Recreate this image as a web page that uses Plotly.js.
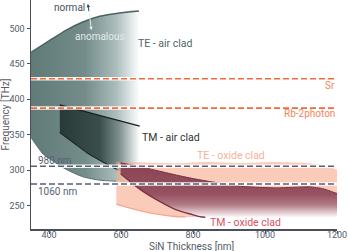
<!DOCTYPE html>
<html>
<head>
<meta charset="utf-8">
<script src="https://cdn.plot.ly/plotly-3.0.1.min.js"></script>
<style>html,body{margin:0;padding:0;background:#fff;}#chart{width:348px;height:251px;}</style>
</head>
<body>
<div id="chart"></div>
<script>
// ---- data ----
const teAirUpperX = [350, 402, 448, 494, 541, 587, 650];
const teAirUpperY = [466, 483, 497.6, 509, 517, 521, 524.5];
const teAirLowerX = [350, 383, 411, 448, 494, 541, 587, 650];
const teAirLowerY = [346, 323, 312.7, 301, 290.6, 285.8, 284.4, 283.5];

const tmAirUpperX = [430, 652];
const tmAirUpperY = [392, 362];
const tmAirLowerX = [430, 470, 513, 555, 592, 650];
const tmAirLowerY = [353, 338, 322, 310, 300, 282];

const teOxUpperX = [587, 650, 746, 838, 932, 1024, 1116, 1160, 1200];
const teOxUpperY = [312, 311, 309.5, 311.5, 310, 311.5, 310, 307, 300];
const teOxLowerX = [587, 620, 661, 700, 744, 780, 834, 1000, 1200];
const teOxLowerY = [252, 247, 242, 238, 235, 234, 234, 238, 240];

const tmOxTopX = [599, 661, 707, 754, 800, 846, 939, 1032, 1124, 1160, 1200];
const tmOxTopY = [310.5, 304, 298.6, 293, 288, 284, 277, 275, 276.5, 274, 267];
const tmOxLowerX = [599, 630, 661, 707, 754, 800, 818, 834];
const tmOxLowerY = [295, 282, 270, 256, 244, 237, 234.5, 233.5];
const tmOxFloor = 233;

const refNames = ['Sr', 'Rb-2photon', '980 nm', '1060 nm'];
const refFreq = [429, 387.5, 305.5, 280.5];
const xSpan = [350, 1200];

const xTicks = [400, 600, 800, 1000, 1200];
const yTicks = [250, 300, 350, 400, 450, 500];

// ---- helpers ----
function poly(ux, uy, lx, ly) {
  return {x: ux.concat(lx.slice().reverse()), y: uy.concat(ly.slice().reverse())};
}
const FONT = 'Roboto, "Liberation Sans", sans-serif';

const traces = [];

// TE - air clad
const teAir = poly(teAirUpperX, teAirUpperY, teAirLowerX, teAirLowerY);
traces.push({x: teAir.x, y: teAir.y, mode: 'lines', fill: 'toself', line: {width: 0, shape: 'spline', smoothing: 0.6},
  fillgradient: {type: 'horizontal', start: 350, stop: 652,
    colorscale: [[0, 'rgb(96,122,120)'], [0.5, 'rgb(116,141,139)'], [0.78, 'rgb(170,188,187)'], [1, 'rgb(255,255,255)']]},
  hoverinfo: 'skip'});
traces.push({x: teAirUpperX, y: teAirUpperY, mode: 'lines', line: {color: 'rgb(74,100,98)', width: 1.5, shape: 'spline', smoothing: 0.6}, hoverinfo: 'skip'});
traces.push({x: teAirLowerX.slice(0, 7), y: teAirLowerY.slice(0, 7), mode: 'lines', line: {color: 'rgba(74,100,98,0.85)', width: 1, shape: 'spline', smoothing: 0.6}, hoverinfo: 'skip'});

// TM - air clad
const tmAir = poly(tmAirUpperX, tmAirUpperY, tmAirLowerX, tmAirLowerY);
traces.push({x: tmAir.x, y: tmAir.y, mode: 'lines', fill: 'toself', line: {width: 0},
  fillgradient: {type: 'horizontal', start: 430, stop: 652,
    colorscale: [[0, 'rgb(40,58,56)'], [0.5, 'rgb(58,78,76)'], [0.75, 'rgb(128,146,144)'], [1, 'rgb(255,255,255)']]},
  hoverinfo: 'skip'});
traces.push({x: tmAirUpperX, y: tmAirUpperY, mode: 'lines', line: {color: 'rgb(25,30,30)', width: 1.3}, hoverinfo: 'skip'});
traces.push({x: tmAirLowerX.slice(0, 5), y: tmAirLowerY.slice(0, 5), mode: 'lines', line: {color: 'rgb(30,40,40)', width: 1.2, shape: 'spline'}, hoverinfo: 'skip'});

// TE - oxide clad
const teOx = poly(teOxUpperX, teOxUpperY, teOxLowerX, teOxLowerY);
traces.push({x: teOx.x, y: teOx.y, mode: 'lines', fill: 'toself', fillcolor: 'rgba(247,168,138,0.6)', line: {width: 0, shape: 'spline', smoothing: 0.5}, hoverinfo: 'skip'});
traces.push({x: teOxLowerX.slice(0, 6), y: teOxLowerY.slice(0, 6), mode: 'lines', line: {color: 'rgb(246,168,140)', width: 1.3, shape: 'spline'}, hoverinfo: 'skip'});

// TM - oxide clad
const tmOx = {
  x: tmOxTopX.concat([1200, 834]).concat(tmOxLowerX.slice().reverse()),
  y: tmOxTopY.concat([tmOxFloor, tmOxFloor]).concat(tmOxLowerY.slice().reverse())
};
traces.push({x: tmOx.x, y: tmOx.y, mode: 'lines', fill: 'toself', line: {width: 0},
  fillgradient: {type: 'vertical', start: 233, stop: 311,
    colorscale: [[0, 'rgb(255,255,255)'], [0.09, 'rgb(226,202,207)'], [0.23, 'rgb(178,124,135)'], [0.42, 'rgb(150,82,96)'], [1, 'rgb(138,66,82)']]},
  hoverinfo: 'skip'});
traces.push({x: tmOxTopX, y: tmOxTopY, mode: 'lines', line: {color: 'rgb(120,52,70)', width: 1, shape: 'spline', smoothing: 0.5}, hoverinfo: 'skip'});
traces.push({x: tmOxLowerX, y: tmOxLowerY, mode: 'lines', line: {color: 'rgb(125,50,70)', width: 1.4, shape: 'spline'}, hoverinfo: 'skip'});

// reference lines
const refColors = ['rgb(242,106,60)', 'rgb(242,106,60)', 'rgb(88,94,118)', 'rgb(88,94,118)'];
refFreq.forEach((f, i) => {
  traces.push({x: xSpan, y: [f, f], mode: 'lines', line: {color: 'rgba(255,255,255,0.9)', width: 3.5}, hoverinfo: 'skip'});
  traces.push({x: xSpan, y: [f, f], mode: 'lines', name: refNames[i], line: {color: refColors[i], width: 1.6, dash: '6px,3px'}, hoverinfo: 'skip'});
});

function txt(text, x, y, color, xanchor, size) {
  return {text: text, x: x, y: y, xref: 'x', yref: 'y', showarrow: false, xanchor: xanchor || 'left', yanchor: 'middle',
    font: {family: FONT, size: size || 10, color: color}};
}
const annotations = [
  txt('TE - air clad', 643, 479, 'rgb(78,102,100)', 'left', 10.5),
  txt('TM - air clad', 652, 345.5, 'rgb(45,50,52)', 'left', 10.5),
  txt('TE - oxide clad', 806, 320, 'rgb(245,178,154)', 'left', 10.5),
  txt('TM - oxide clad', 843, 226, 'rgb(217,79,100)', 'left', 10.5),
  txt('Sr', 1200, 420, 'rgb(243,132,90)', 'right'),
  txt('Rb-2photon', 1200, 380, 'rgb(243,132,90)', 'right'),
  txt('980 nm', 364, 314, 'rgb(88,94,118)'),
  txt('1060 nm', 364, 270.5, 'rgb(88,94,118)'),
  txt('normal', 506, 529.6, 'rgb(70,82,92)', 'right'),
  txt('anomalous', 466, 488, 'rgb(228,233,233)'),
  {text: '', x: 508, y: 534.5, ax: 511.5, ay: 522, xref: 'x', yref: 'y', axref: 'x', ayref: 'y', showarrow: true,
    arrowhead: 2, arrowsize: 0.7, arrowwidth: 1, arrowcolor: 'rgb(60,72,82)'},
  {text: '', x: 518, y: 497.5, ax: 511.5, ay: 522, xref: 'x', yref: 'y', axref: 'x', ayref: 'y', showarrow: true,
    arrowhead: 2, arrowsize: 0.7, arrowwidth: 1, arrowcolor: 'rgb(232,236,236)'},
  {text: 'SiN Thickness [nm]', x: 0.526, y: -0.078, xref: 'paper', yref: 'paper', showarrow: false,
    xanchor: 'center', yanchor: 'middle', font: {family: FONT, size: 10, color: 'rgb(85,91,102)'}}
];

const axisCommon = {showgrid: false, zeroline: false, showline: true, linecolor: 'rgb(74,79,90)', linewidth: 1.5,
  ticks: 'outside', ticklen: 3, tickwidth: 1, tickcolor: 'rgb(74,79,90)',
  tickfont: {family: FONT, size: 9, color: 'rgb(85,91,102)'}};

const layout = {
  width: 348, height: 251,
  margin: {l: 31, r: 11, t: 0, b: 22},
  paper_bgcolor: '#fff', plot_bgcolor: '#fff',
  showlegend: false,
  xaxis: Object.assign({}, axisCommon, {range: [350, 1200], tickvals: xTicks, ticktext: xTicks.map(String), ticklabelstandoff: -6}),
  yaxis: Object.assign({}, axisCommon, {range: [217, 540], tickvals: yTicks, ticktext: yTicks.map(String),
    title: {text: 'Frequency [THz]', standoff: 1, font: {family: FONT, size: 10, color: 'rgb(85,91,102)'}}}),
  annotations: annotations
};

Plotly.newPlot('chart', traces, layout, {displayModeBar: false, staticPlot: true});
</script>
</body>
</html>
